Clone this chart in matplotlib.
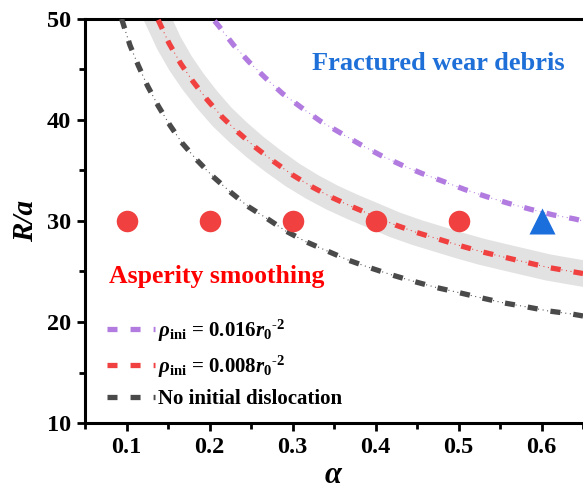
import numpy as np
import matplotlib
matplotlib.use("Agg")
import matplotlib.pyplot as plt
from matplotlib.lines import Line2D

plt.rcParams['font.family'] = ['Liberation Serif', 'DejaVu Serif']
plt.rcParams['font.weight'] = 'bold'
plt.rcParams['axes.labelweight'] = 'bold'
plt.rcParams['mathtext.fontset'] = 'custom'
plt.rcParams['mathtext.rm'] = 'Liberation Serif:bold'
plt.rcParams['mathtext.it'] = 'Liberation Serif:bold:italic'
plt.rcParams['mathtext.bf'] = 'Liberation Serif:bold'
plt.rcParams['lines.scale_dashes'] = False

# curves
black_alpha = [0.094, 0.104, 0.114, 0.125, 0.138, 0.152, 0.167, 0.185, 0.204, 0.226, 0.247, 0.270,
               0.292, 0.316, 0.344, 0.368, 0.394, 0.420, 0.447, 0.474, 0.501, 0.527, 0.554, 0.582,
               0.608, 0.636, 0.650]
black_y = [50.0, 47.4, 45.4, 43.4, 41.4, 39.5, 37.7, 36.0, 34.4, 32.8, 31.4, 30.2,
           29.0, 27.95, 26.95, 26.1, 25.35, 24.65, 24.0, 23.4, 22.9, 22.4, 21.9, 21.5,
           21.1, 20.8, 20.6]

red_alpha = [0.138, 0.151, 0.165, 0.180, 0.197, 0.215, 0.234, 0.255, 0.277, 0.300, 0.324, 0.348,
             0.372, 0.398, 0.424, 0.450, 0.476, 0.502, 0.528, 0.556, 0.582, 0.608, 0.636, 0.650]
red_y = [49.9, 47.6, 45.6, 43.8, 42.0, 40.3, 38.8, 37.3, 35.9, 34.55, 33.35, 32.3,
         31.4, 30.5, 29.6, 28.85, 28.2, 27.55, 26.95, 26.4, 25.9, 25.4, 25.0, 24.8]

purple_alpha = [0.206, 0.211, 0.229, 0.248, 0.268, 0.288, 0.311, 0.334, 0.358, 0.381, 0.406,
                0.431, 0.456, 0.482, 0.508, 0.534, 0.560, 0.587, 0.614, 0.640, 0.650]
purple_y = [49.8, 49.3, 47.4, 45.7, 44.1, 42.6, 41.2, 39.85, 38.7, 37.6, 36.5,
            35.55, 34.7, 33.9, 33.1, 32.4, 31.75, 31.15, 30.6, 30.2, 30.0]

smooth_alpha = [0.1, 0.2, 0.3, 0.4, 0.5]
smooth_y = [30, 30, 30, 30, 30]
debris_alpha = [0.6]
debris_y = [30]

labels = [r'$\rho_{\rm ini}$ = 0.016$r_{0}{}^{\text{-2}}$',
          r'$\rho_{\rm ini}$ = 0.008$r_{0}{}^{\text{-2}}$',
          'No initial dislocation']
colors = ['#b27be0', '#f04040', '#4a4a4a']

fig = plt.figure(figsize=(5.83, 4.96), dpi=100)
ax = fig.add_axes([0.146, 0.147, 0.854, 0.815])

# grey band behind the 0.008 curve
ax.plot(red_alpha, red_y, color='#e2e2e2', lw=19, solid_capstyle='projecting', zorder=1)

handles = []
for xs, ys, c in zip([purple_alpha, red_alpha, black_alpha], [purple_y, red_y, black_y], colors):
    ax.plot(xs, ys, color=c, lw=0.8, dashes=(0.7, 2.6), zorder=2)
    ax.plot(xs, ys, color=c, lw=3.8, dashes=(7.2, 9.4), zorder=3)
    handles.append(Line2D([], [], color=c, lw=3.8, dashes=(7.2, 9.4, 7.2, 9.4, 1.5, 30),
                          dash_capstyle='butt'))

ax.plot(smooth_alpha, smooth_y, 'o', ms=15.5, color='#f04040', mec='none', zorder=5)
ax.plot(debris_alpha, debris_y, '^', ms=19, color='#1a6fdc', mec='none', zorder=5)

ax.text(0.476, 45.6, 'Fractured wear debris', color='#1e70d8', fontsize=19,
        ha='center', va='center')
ax.text(0.079, 24.5, 'Asperity smoothing', color='#ff0000', fontsize=18.5,
        ha='left', va='center')

ax.legend(handles, labels, loc='lower left', bbox_to_anchor=(0.043, 0.035), frameon=False,
          fontsize=15, handlelength=2.35, handletextpad=0.1, labelspacing=0.45,
          borderpad=0, borderaxespad=0)

ax.set_xlim(0.05, 0.65)
ax.set_ylim(10, 50)
ax.set_xticks([0.1, 0.2, 0.3, 0.4, 0.5, 0.6])
ax.set_xticks(np.arange(0.05, 0.66, 0.1), minor=True)
ax.set_yticks([10, 20, 30, 40, 50])
ax.set_yticks([15, 25, 35, 45], minor=True)
ax.tick_params(which='major', direction='out', length=6, width=2, labelsize=17.5, pad=4)
ax.tick_params(which='minor', direction='out', length=4, width=2)
ax.spines['right'].set_visible(False)
for s in ['left', 'bottom', 'top']:
    ax.spines[s].set_linewidth(2.2)

ax.set_xlabel(r'$\alpha$', fontsize=22, labelpad=2)
ax.set_ylabel('R/a', fontsize=21, style='italic', labelpad=6)

fig.savefig('out.png', dpi=100)
